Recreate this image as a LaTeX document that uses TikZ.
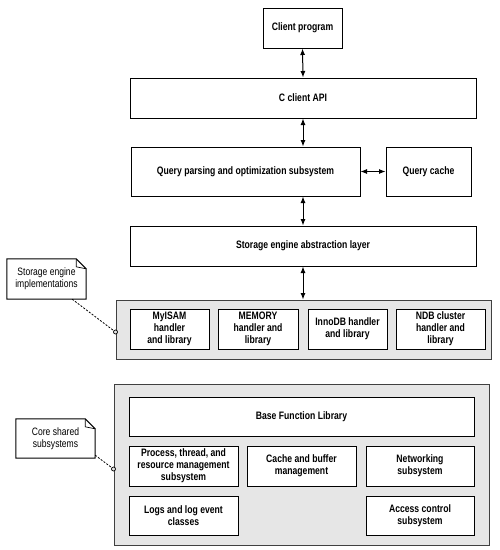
\documentclass[tikz,border=0pt]{standalone}
\usepackage{fontspec}
\setmainfont{Liberation Sans}[FakeStretch=0.8]
\usetikzlibrary{arrows.meta,calc}
\definecolor{panel}{RGB}{230,230,230}
\begin{document}
\begin{tikzpicture}[x=1pt,y=-1pt,
  box/.style={draw=black,line width=1pt,fill=white,align=center,inner sep=1pt,
    font=\fontsize{10.8}{12}\selectfont\bfseries},
  panelbox/.style={draw=black!75,line width=1pt,fill=panel},
  conn/.style={{Latex[length=6.5pt,width=5pt]}-{Latex[length=6.5pt,width=5pt]},line width=1pt},
  notebox/.style={align=center,inner sep=1pt,font=\fontsize{10.7}{12}\selectfont},
  leader/.style={dashed,dash pattern=on 2pt off 1.5pt,line width=0.8pt}
]
\useasboundingbox (0,0) rectangle (500,550);
% top stack
\node[box,minimum width=79pt,minimum height=40pt] (client) at (302.5,28) {Client program};
\node[box,minimum width=346pt,minimum height=40pt] (capi) at (303,98) {C client API};
\node[box,minimum width=229pt,minimum height=49pt] (query) at (245.5,171.5) {Query parsing and optimization subsystem};
\node[box,minimum width=85pt,minimum height=49pt] (qcache) at (428.5,171.5) {Query cache};
\node[box,minimum width=346pt,minimum height=40pt] (seal) at (303,246) {Storage engine abstraction layer};
% storage engines panel
\node[panelbox,minimum width=375pt,minimum height=59pt] (engines) at (303.5,329.5) {};
\node[box,minimum width=79pt,minimum height=40pt] (myisam) at (169.5,329) {MyISAM\\handler\\and library};
\node[box,minimum width=80pt,minimum height=40pt] (memory) at (258,329) {MEMORY\\handler and\\library};
\node[box,minimum width=79pt,minimum height=40pt] (innodb) at (347.5,329) {InnoDB handler\\and library};
\node[box,minimum width=89pt,minimum height=40pt] (ndb) at (440.5,329) {NDB cluster\\handler and\\library};
% core panel
\node[panelbox,minimum width=375pt,minimum height=161pt] (core) at (301.5,464.5) {};
\node[box,minimum width=345pt,minimum height=39pt] (base) at (301.5,416.5) {Base Function Library};
\node[box,minimum width=109pt,minimum height=40pt] (proc) at (183.5,466) {Process, thread, and\\resource management\\subsystem};
\node[box,minimum width=109pt,minimum height=40pt] (cachebuf) at (301.5,466) {Cache and buffer\\management};
\node[box,minimum width=108pt,minimum height=40pt] (net) at (420,466) {Networking\\subsystem};
\node[box,minimum width=109pt,minimum height=39pt] (logs) at (183.5,515.5) {Logs and log event\\classes};
\node[box,minimum width=108pt,minimum height=39pt] (access) at (420,515.5) {Access control\\subsystem};
% notes
\node[notebox,minimum width=79pt,minimum height=40pt] (note1) at (46.5,279) {Storage engine\\implementations};
\node[notebox,minimum width=79pt,minimum height=39pt] (note2) at (55.5,438.5) {Core shared\\subsystems};
\foreach \n in {note1,note2}{
  \draw[line width=1pt] (\n.south west) -- (\n.north west) -- ($(\n.north east)+(-10,0)$)
    -- ($(\n.north east)+(0,10)$) -- (\n.south east) -- cycle;
  \draw[line width=0.7pt] ($(\n.north east)+(-10,0)$) -- ($(\n.north east)+(-10,8)$) -- ($(\n.north east)+(0,10)$);
}
% connectors
\draw[conn] (client.south) -- (capi.north);
\draw[conn] (capi.south) -- (capi.south |- query.north);
\draw[conn] (query.east) -- (qcache.west);
\draw[conn] (seal.north |- query.south) -- (seal.north);
\draw[conn] (seal.south) -- (seal.south |- engines.north);
% note leaders
\coordinate (e1) at ($(engines.west)+(0,2.5)$);
\coordinate (e2) at ($(core.west)+(0,4.5)$);
\draw[leader] ($(note1.south east)+(-14,0)$) -- (e1);
\draw[line width=0.7pt,fill=panel] (e1) circle (2pt);
\draw[leader] ($(note2.south east)+(0,-3)$) -- (e2);
\draw[line width=0.7pt,fill=panel] (e2) circle (2pt);
\end{tikzpicture}
\end{document}
